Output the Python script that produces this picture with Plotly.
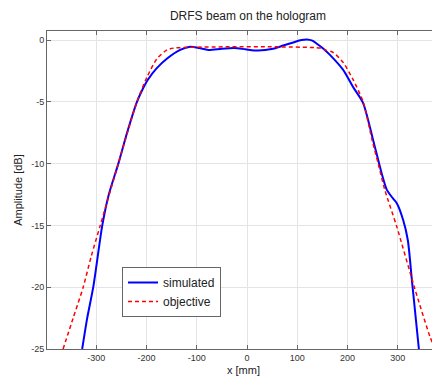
import plotly.graph_objects as go

# simulated beam (blue)
sim_x = [-328, -318, -306, -288, -275, -256, -238, -219, -208, -197, -180, -159,
         -133, -113, -95, -77, -50, -25, -3, 22, 52, 72, 92, 108, 119, 130, 139, 152, 165,
         191, 211, 231, 251, 268, 278, 290, 298, 311, 320, 328, 336, 342]
sim_y = [-25, -22.5, -20, -15, -12.5, -10, -7.4, -5, -4.0, -3.2, -2.3, -1.5,
         -0.8, -0.55, -0.65, -0.8, -0.7, -0.65, -0.75, -0.85, -0.7, -0.45, -0.2, 0.0, 0.05,
         -0.05, -0.3, -0.7, -1.2, -2.4, -3.8, -5.1, -8.1, -10.8, -12.1, -12.8, -13.2, -14.6,
         -16.2, -19.4, -22.6, -25]

# objective (red dashed)
obj_x = [-366, -346, -326, -310, -292, -256, -219, -199, -179, -159, -145,
         145, 155, 171, 191, 211, 231, 249, 261, 274, 298, 333, 364, 374]
obj_y = [-25, -22.5, -20, -17.5, -15, -10, -5, -3.0, -1.5, -0.8, -0.65,
         -0.65, -0.8, -1.0, -1.8, -3.2, -5, -8.1, -10, -12.1, -15.1, -20, -24, -25]

x_ticks = [-300, -200, -100, 0, 100, 200, 300]
y_ticks = [0, -5, -10, -15, -20, -25]

fig = go.Figure()
fig.add_trace(go.Scatter(x=sim_x, y=sim_y, mode="lines", name="simulated",
                         line=dict(color="#0000ff", width=2, shape="spline", smoothing=0.7)))
fig.add_trace(go.Scatter(x=obj_x, y=obj_y, mode="lines", name="objective",
                         line=dict(color="#ff0000", width=1.5, dash="4px,3px", shape="spline", smoothing=0.7)))

# page has an 8px body margin, so the figure is drawn from (8, 8)
W, H = 432, 375
font = "Liberation Sans, Arial, sans-serif"
fig.update_layout(
    width=W, height=H,
    margin=dict(l=39, r=0, t=23, b=34, autoexpand=False),
    paper_bgcolor="white", plot_bgcolor="white",
    font=dict(family=font, size=11, color="#222"),
    title=dict(text="DRFS beam on the hologram", x=240 / W, xref="container", xanchor="center",
               y=1 - 8 / H, yref="container", yanchor="middle",
               font=dict(size=12, color="#222")),
    showlegend=True,
    legend=dict(x=(122 - 47) / 393, y=(349 - 267) / 318, xanchor="left", yanchor="top",
                bordercolor="#666", borderwidth=1, bgcolor="white", itemwidth=30,
                font=dict(size=12, color="#222"), tracegroupgap=0),
    xaxis=dict(range=[-398, 384], tickvals=x_ticks, ticktext=[str(v) for v in x_ticks],
               automargin=False,
               showgrid=True, gridcolor="#e4e4e4", gridwidth=1, zeroline=False,
               showline=True, linecolor="#666", linewidth=1, mirror="ticks",
               ticks="inside", ticklen=4, tickcolor="#666",
               tickfont=dict(size=9, color="#333"),
               title=dict(text="x [mm]", font=dict(size=11, color="#222"), standoff=4)),
    yaxis=dict(range=[-25, 0.73], tickvals=y_ticks, ticktext=[str(v) for v in y_ticks],
               automargin=False,
               showgrid=True, gridcolor="#e4e4e4", gridwidth=1, zeroline=False,
               showline=True, linecolor="#666", linewidth=1, mirror="ticks",
               ticks="inside", ticklen=4, tickcolor="#666",
               tickfont=dict(size=9, color="#333"),
               title=dict(text="Amplitude [dB]", font=dict(size=11, color="#222"), standoff=6)),
)

fig.write_html("out.html")
